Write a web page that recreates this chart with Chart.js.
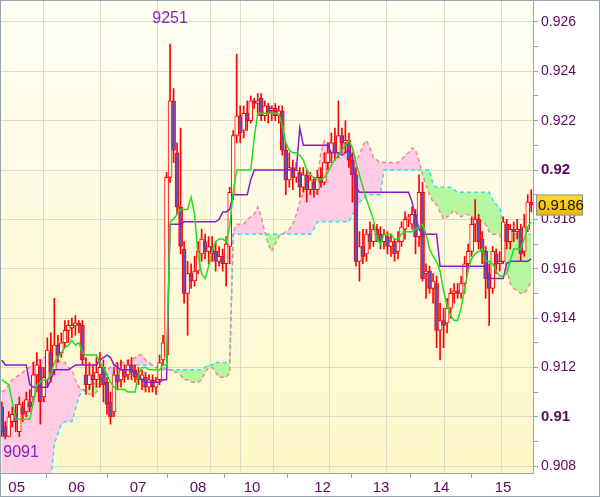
<!DOCTYPE html>
<html>
<head>
<meta charset="utf-8">
<script src="https://cdn.jsdelivr.net/npm/chart.js@4.4.1/dist/chart.umd.min.js"></script>
<style>
  html, body { margin: 0; padding: 0; background: #fff; }
  #wrap { width: 600px; height: 497px; }
</style>
</head>
<body>
<div id="wrap"><canvas id="chart"></canvas></div>
<script>
// hourly candles
const openP = [
  0.9104, 0.9096, 0.9092, 0.9098, 0.9101, 0.9094, 0.9104, 0.9102, 0.9106, 0.9108,
  0.9117, 0.9120, 0.9108, 0.9115, 0.9126, 0.9119, 0.9129, 0.9126, 0.9130, 0.9135,
  0.9136, 0.9137, 0.9138, 0.9137, 0.9117, 0.9113, 0.9117, 0.9115, 0.9117, 0.9120,
  0.9114, 0.9106, 0.9102, 0.9117, 0.9115, 0.9119, 0.9117, 0.9121, 0.9119, 0.9117,
  0.9115, 0.9116, 0.9112, 0.9115, 0.9112, 0.9115, 0.9123, 0.9125, 0.9197, 0.9228,
  0.9207, 0.9185, 0.9168, 0.9150, 0.9158, 0.9155, 0.9159, 0.9166, 0.9171, 0.9167,
  0.9169, 0.9167, 0.9163, 0.9165, 0.9162, 0.9169, 0.9190, 0.9214, 0.9222, 0.9216,
  0.9223, 0.9220, 0.9228, 0.9227, 0.9229, 0.9222, 0.9226, 0.9224, 0.9225, 0.9222,
  0.9224, 0.9208, 0.9196, 0.9201, 0.9197, 0.9199, 0.9193, 0.9198, 0.9192, 0.9195,
  0.9192, 0.9197, 0.9195, 0.9203, 0.9207, 0.9211, 0.9207, 0.9214, 0.9211, 0.9212,
  0.9204, 0.9198, 0.9163, 0.9169, 0.9166, 0.9174, 0.9171, 0.9176, 0.9174, 0.9171,
  0.9173, 0.9169, 0.9171, 0.9167, 0.9171, 0.9176, 0.9180, 0.9178, 0.9182, 0.9173,
  0.9191, 0.9158, 0.9159, 0.9152, 0.9154, 0.9135, 0.9139, 0.9138, 0.9144, 0.9150,
  0.9151, 0.9150, 0.9154, 0.9162, 0.9167, 0.9178, 0.9180, 0.9172, 0.9167, 0.9158,
  0.9152, 0.9166, 0.9162, 0.9163, 0.9178, 0.9171, 0.9176, 0.9175, 0.9176, 0.9167,
  0.9176, 0.9187
];
const highP = [
  0.9106, 0.9098, 0.9102, 0.9104, 0.9105, 0.9108, 0.9106, 0.9110, 0.9111, 0.9122,
  0.9126, 0.9123, 0.9120, 0.9132, 0.9134, 0.9148, 0.9133, 0.9134, 0.9139, 0.9139,
  0.9140, 0.9141, 0.9139, 0.9139, 0.9124, 0.9122, 0.9121, 0.9124, 0.9126, 0.9123,
  0.9116, 0.9110, 0.9120, 0.9122, 0.9123, 0.9121, 0.9123, 0.9124, 0.9121, 0.9120,
  0.9119, 0.9118, 0.9117, 0.9117, 0.9116, 0.9125, 0.9133, 0.9199, 0.9251, 0.9233,
  0.9211, 0.9217, 0.9171, 0.9163, 0.9162, 0.9165, 0.9171, 0.9176, 0.9174, 0.9173,
  0.9173, 0.9171, 0.9169, 0.9168, 0.9173, 0.9193, 0.9216, 0.9247, 0.9226, 0.9226,
  0.9228, 0.9230, 0.9229, 0.9231, 0.9231, 0.9228, 0.9227, 0.9226, 0.9227, 0.9226,
  0.9226, 0.9211, 0.9207, 0.9204, 0.9203, 0.9201, 0.9201, 0.9200, 0.9199, 0.9197,
  0.9200, 0.9201, 0.9207, 0.9211, 0.9215, 0.9217, 0.9228, 0.9217, 0.9220, 0.9215,
  0.9207, 0.9201, 0.9175, 0.9176, 0.9176, 0.9179, 0.9178, 0.9178, 0.9177, 0.9176,
  0.9175, 0.9174, 0.9172, 0.9175, 0.9179, 0.9183, 0.9182, 0.9185, 0.9184, 0.9198,
  0.9195, 0.9162, 0.9161, 0.9158, 0.9157, 0.9146, 0.9144, 0.9148, 0.9152, 0.9154,
  0.9154, 0.9157, 0.9165, 0.9170, 0.9181, 0.9188, 0.9182, 0.9175, 0.9169, 0.9162,
  0.9169, 0.9168, 0.9167, 0.9181, 0.9180, 0.9178, 0.9179, 0.9180, 0.9178, 0.9182,
  0.9190, 0.9192
];
const lowP = [
  0.9092, 0.9091, 0.9092, 0.9096, 0.9094, 0.9092, 0.9098, 0.9100, 0.9102, 0.9106,
  0.9110, 0.9097, 0.9106, 0.9112, 0.9114, 0.9117, 0.9122, 0.9124, 0.9128, 0.9130,
  0.9132, 0.9133, 0.9134, 0.9121, 0.9109, 0.9111, 0.9108, 0.9112, 0.9112, 0.9106,
  0.9101, 0.9097, 0.9100, 0.9111, 0.9112, 0.9114, 0.9115, 0.9115, 0.9114, 0.9113,
  0.9111, 0.9110, 0.9110, 0.9110, 0.9109, 0.9113, 0.9121, 0.9124, 0.9195, 0.9203,
  0.9182, 0.9166, 0.9146, 0.9133, 0.9152, 0.9153, 0.9158, 0.9163, 0.9164, 0.9162,
  0.9163, 0.9159, 0.9161, 0.9159, 0.9153, 0.9162, 0.9188, 0.9211, 0.9211, 0.9213,
  0.9216, 0.9219, 0.9225, 0.9222, 0.9220, 0.9220, 0.9219, 0.9220, 0.9220, 0.9219,
  0.9206, 0.9190, 0.9193, 0.9192, 0.9195, 0.9189, 0.9191, 0.9187, 0.9190, 0.9189,
  0.9190, 0.9193, 0.9194, 0.9200, 0.9203, 0.9204, 0.9205, 0.9207, 0.9207, 0.9201,
  0.9187, 0.9161, 0.9155, 0.9162, 0.9163, 0.9168, 0.9169, 0.9171, 0.9168, 0.9168,
  0.9166, 0.9165, 0.9163, 0.9164, 0.9169, 0.9172, 0.9177, 0.9176, 0.9166, 0.9169,
  0.9155, 0.9148, 0.9150, 0.9146, 0.9128, 0.9123, 0.9128, 0.9134, 0.9140, 0.9146,
  0.9148, 0.9148, 0.9150, 0.9159, 0.9165, 0.9171, 0.9168, 0.9162, 0.9148, 0.9137,
  0.9150, 0.9158, 0.9159, 0.9162, 0.9168, 0.9168, 0.9171, 0.9172, 0.9163, 0.9165,
  0.9175, 0.9183
];
const closeP = [
  0.9094, 0.9092, 0.9100, 0.9101, 0.9098, 0.9105, 0.9101, 0.9107, 0.9104, 0.9117,
  0.9121, 0.9106, 0.9116, 0.9127, 0.9118, 0.9129, 0.9125, 0.9130, 0.9135, 0.9137,
  0.9137, 0.9138, 0.9137, 0.9123, 0.9113, 0.9117, 0.9115, 0.9118, 0.9120, 0.9113,
  0.9105, 0.9100, 0.9117, 0.9114, 0.9119, 0.9116, 0.9121, 0.9118, 0.9116, 0.9115,
  0.9117, 0.9112, 0.9115, 0.9112, 0.9114, 0.9122, 0.9130, 0.9197, 0.9228, 0.9208,
  0.9185, 0.9169, 0.9150, 0.9158, 0.9155, 0.9159, 0.9167, 0.9172, 0.9167, 0.9169,
  0.9166, 0.9163, 0.9165, 0.9162, 0.9170, 0.9191, 0.9214, 0.9222, 0.9215, 0.9223,
  0.9220, 0.9228, 0.9227, 0.9228, 0.9222, 0.9226, 0.9223, 0.9225, 0.9222, 0.9224,
  0.9208, 0.9196, 0.9201, 0.9197, 0.9200, 0.9193, 0.9198, 0.9192, 0.9196, 0.9192,
  0.9197, 0.9195, 0.9203, 0.9207, 0.9211, 0.9207, 0.9214, 0.9211, 0.9212, 0.9204,
  0.9198, 0.9163, 0.9169, 0.9165, 0.9174, 0.9171, 0.9176, 0.9174, 0.9171, 0.9174,
  0.9169, 0.9171, 0.9166, 0.9171, 0.9177, 0.9180, 0.9181, 0.9182, 0.9173, 0.9191,
  0.9156, 0.9159, 0.9152, 0.9155, 0.9135, 0.9139, 0.9137, 0.9144, 0.9150, 0.9151,
  0.9150, 0.9154, 0.9162, 0.9167, 0.9178, 0.9180, 0.9171, 0.9167, 0.9156, 0.9152,
  0.9167, 0.9162, 0.9163, 0.9179, 0.9171, 0.9176, 0.9175, 0.9176, 0.9166, 0.9177,
  0.9187, 0.9186
];

// ichimoku lines
const tenkan = [
  0.9115, 0.9114, 0.9113, 0.9106, 0.9099, 0.9099, 0.9099, 0.9099, 0.9099, 0.9106,
  0.9113, 0.9114, 0.9115, 0.9115, 0.9117, 0.9122, 0.9124, 0.9126, 0.9128, 0.9129,
  0.9131, 0.9129, 0.9130, 0.9126, 0.9125, 0.9125, 0.9125, 0.9125, 0.9122, 0.9120,
  0.9117, 0.9114, 0.9112, 0.9111, 0.9111, 0.9111, 0.9110, 0.9110, 0.9110, 0.9117,
  0.9120, 0.9120, 0.9119, 0.9119, 0.9119, 0.9119, 0.9121, 0.9121, 0.9179, 0.9180,
  0.9182, 0.9184, 0.9184, 0.9184, 0.9189, 0.9182, 0.9165, 0.9158, 0.9156, 0.9161,
  0.9167, 0.9171, 0.9172, 0.9172, 0.9171, 0.9177, 0.9191, 0.9200, 0.9200, 0.9200,
  0.9200, 0.9200, 0.9213, 0.9223, 0.9223, 0.9223, 0.9223, 0.9223, 0.9223, 0.9223,
  0.9218, 0.9211, 0.9208, 0.9207, 0.9207, 0.9206, 0.9204, 0.9200, 0.9198, 0.9197,
  0.9196, 0.9196, 0.9197, 0.9199, 0.9202, 0.9204, 0.9206, 0.9208, 0.9210, 0.9212,
  0.9209, 0.9203, 0.9198, 0.9193, 0.9188, 0.9184, 0.9180, 0.9172, 0.9170, 0.9174,
  0.9174, 0.9174, 0.9172, 0.9172, 0.9174, 0.9175, 0.9175, 0.9175, 0.9176, 0.9177,
  0.9178, 0.9174, 0.9168, 0.9165, 0.9163, 0.9159, 0.9151, 0.9145, 0.9141, 0.9139,
  0.9139, 0.9144, 0.9152, 0.9159, 0.9164, 0.9166, 0.9167, 0.9168, 0.9163, 0.9163,
  0.9162, 0.9159, 0.9157, 0.9157, 0.9158, 0.9163, 0.9168, 0.9168, 0.9168, 0.9172,
  0.9177, 0.9179
];
const kijun = [
  0.9123, 0.9121, 0.9121, 0.9121, 0.9121, 0.9121, 0.9121, 0.9121, 0.9113, 0.9112,
  0.9112, 0.9112, 0.9112, 0.9112, 0.9115, 0.9119, 0.9119, 0.9119, 0.9119, 0.9119,
  0.9120, 0.9121, 0.9121, 0.9121, 0.9121, 0.9121, 0.9121, 0.9121, 0.9123, 0.9124,
  0.9125, 0.9124, 0.9121, 0.9120, 0.9119, 0.9119, 0.9119, 0.9119, 0.9118, 0.9117,
  0.9115, 0.9114, 0.9114, 0.9114, 0.9114, 0.9114, 0.9115, 0.9115, 0.9178, 0.9178,
  0.9178, 0.9178, 0.9179, 0.9179, 0.9179, 0.9179, 0.9179, 0.9179, 0.9179, 0.9179,
  0.9179, 0.9179, 0.9180, 0.9183, 0.9183, 0.9184, 0.9190, 0.9190, 0.9190, 0.9190,
  0.9190, 0.9196, 0.9200, 0.9200, 0.9200, 0.9200, 0.9200, 0.9200, 0.9200, 0.9200,
  0.9200, 0.9200, 0.9200, 0.9200, 0.9200, 0.9217, 0.9210, 0.9210, 0.9210, 0.9210,
  0.9210, 0.9210, 0.9210, 0.9210, 0.9207, 0.9207, 0.9207, 0.9206, 0.9207, 0.9208,
  0.9205, 0.9193, 0.9191, 0.9191, 0.9191, 0.9191, 0.9191, 0.9191, 0.9191, 0.9191,
  0.9191, 0.9191, 0.9191, 0.9191, 0.9191, 0.9191, 0.9191, 0.9187, 0.9181, 0.9176,
  0.9174, 0.9174, 0.9174, 0.9174, 0.9174, 0.9161, 0.9161, 0.9161, 0.9161, 0.9161,
  0.9161, 0.9161, 0.9161, 0.9161, 0.9161, 0.9161, 0.9161, 0.9161, 0.9161, 0.9156,
  0.9156, 0.9156, 0.9156, 0.9156, 0.9162, 0.9163, 0.9163, 0.9163, 0.9163, 0.9163,
  0.9163, 0.9164
];
const spanA = [
  0.9110, 0.9111, 0.9113, 0.9115, 0.9116, 0.9117, 0.9118, 0.9119, 0.9120, 0.9122,
  0.9123, 0.9123, 0.9124, 0.9124, 0.9124, 0.9123, 0.9123, 0.9122, 0.9122, 0.9120,
  0.9119, 0.9115, 0.9112, 0.9111, 0.9110, 0.9109, 0.9109, 0.9110, 0.9113, 0.9116,
  0.9119, 0.9120, 0.9121, 0.9122, 0.9122, 0.9122, 0.9123, 0.9123, 0.9124, 0.9125,
  0.9125, 0.9123, 0.9122, 0.9121, 0.9120, 0.9120, 0.9119, 0.9119, 0.9119, 0.9118,
  0.9118, 0.9117, 0.9115, 0.9115, 0.9114, 0.9114, 0.9114, 0.9115, 0.9118, 0.9120,
  0.9120, 0.9118, 0.9116, 0.9116, 0.9116, 0.9118, 0.9175, 0.9178, 0.9178, 0.9178,
  0.9180, 0.9181, 0.9182, 0.9185, 0.9181, 0.9175, 0.9170, 0.9167, 0.9170, 0.9173,
  0.9174, 0.9175, 0.9176, 0.9178, 0.9182, 0.9187, 0.9191, 0.9194, 0.9195, 0.9196,
  0.9196, 0.9207, 0.9212, 0.9211, 0.9211, 0.9211, 0.9211, 0.9211, 0.9211, 0.9210,
  0.9209, 0.9204, 0.9206, 0.9210, 0.9212, 0.9209, 0.9205, 0.9204, 0.9203, 0.9203,
  0.9203, 0.9203, 0.9203, 0.9203, 0.9204, 0.9206, 0.9207, 0.9209, 0.9208, 0.9204,
  0.9198, 0.9194, 0.9190, 0.9187, 0.9186, 0.9183, 0.9180, 0.9181, 0.9182, 0.9184,
  0.9182, 0.9181, 0.9182, 0.9182, 0.9181, 0.9180, 0.9180, 0.9179, 0.9178, 0.9175,
  0.9174, 0.9174, 0.9174, 0.9167, 0.9160, 0.9154, 0.9152, 0.9151, 0.9150, 0.9150,
  0.9152, 0.9155
];
const spanB = [
  0.9072, 0.9072, 0.9072, 0.9072, 0.9072, 0.9072, 0.9072, 0.9072, 0.9072, 0.9072,
  0.9072, 0.9072, 0.9072, 0.9072, 0.9074, 0.9089, 0.9093, 0.9097, 0.9098, 0.9098,
  0.9098, 0.9103, 0.9108, 0.9111, 0.9111, 0.9112, 0.9113, 0.9114, 0.9115, 0.9116,
  0.9117, 0.9117, 0.9118, 0.9120, 0.9121, 0.9121, 0.9121, 0.9121, 0.9121, 0.9121,
  0.9121, 0.9121, 0.9121, 0.9121, 0.9120, 0.9120, 0.9120, 0.9119, 0.9119, 0.9119,
  0.9119, 0.9119, 0.9119, 0.9119, 0.9119, 0.9119, 0.9119, 0.9119, 0.9120, 0.9121,
  0.9121, 0.9122, 0.9122, 0.9122, 0.9122, 0.9122, 0.9174, 0.9174, 0.9174, 0.9174,
  0.9174, 0.9174, 0.9174, 0.9174, 0.9174, 0.9174, 0.9174, 0.9174, 0.9174, 0.9174,
  0.9174, 0.9174, 0.9174, 0.9174, 0.9174, 0.9174, 0.9174, 0.9174, 0.9174, 0.9176,
  0.9179, 0.9179, 0.9179, 0.9179, 0.9179, 0.9179, 0.9179, 0.9179, 0.9179, 0.9179,
  0.9182, 0.9184, 0.9187, 0.9188, 0.9190, 0.9190, 0.9190, 0.9190, 0.9190, 0.9200,
  0.9200, 0.9200, 0.9200, 0.9200, 0.9200, 0.9200, 0.9200, 0.9200, 0.9200, 0.9200,
  0.9200, 0.9200, 0.9200, 0.9194, 0.9193, 0.9193, 0.9193, 0.9193, 0.9193, 0.9192,
  0.9191, 0.9191, 0.9191, 0.9191, 0.9191, 0.9191, 0.9191, 0.9191, 0.9191, 0.9191,
  0.9188, 0.9186, 0.9185, 0.9176, 0.9174, 0.9174, 0.9174, 0.9174, 0.9174, 0.9174,
  0.9174, 0.9174
];

// day labels under the axis (positions in bar units) and the vertical grid
const xTickPos = [4.26, 21.37, 38.85, 55.96, 71.36, 91.47, 108.15, 125.26, 142.94];
const xTickLabels = ["05", "06", "07", "08", "10", "12", "13", "14", "15"];
const xGridPos = [3.78, 20.03, 36.29, 52.54, 66.8, 69.65, 85.62, 101.59, 118.13, 134.39];
const yTicks = [
  0.908, 0.909, 0.91, 0.911, 0.912, 0.913, 0.914, 0.915, 0.916, 0.917,
  0.918, 0.919, 0.92, 0.921, 0.922, 0.923, 0.924, 0.925, 0.926
];

const FONT = "'Liberation Sans', Arial, sans-serif";
const AXIS_GRAY = "#98a4ae";
const GRID = "#dcdcc4";
const LABEL = "#5c0b5c";

const xs = (arr) => arr.map((v, i) => ({ x: i, y: v }));
const isMajor = (v) => Math.round(v * 1000) % 2 === 0;

const wicks = lowP.map((l, i) => ({ x: i, y: [l, highP[i]] }));
const bodies = openP.map((o, i) => ({ x: i, y: [o, closeP[i]] }));
const bodyFill = openP.map((o, i) => (closeP[i] < o ? "#6650b4" : "#fffbe6"));

const noPad = (s) => {
  s.paddingLeft = 0;
  s.paddingRight = 0;
  s.paddingTop = 0;
  s.paddingBottom = 0;
};

const framePlugin = {
  id: "frame",
  beforeDraw(chart) {
    const { ctx, chartArea: a } = chart;
    ctx.save();
    ctx.fillStyle = "#ffffff";
    ctx.fillRect(0, 0, chart.width, chart.height);
    const g = ctx.createLinearGradient(0, a.top, 0, a.bottom);
    g.addColorStop(0, "#fffff5");
    g.addColorStop(1, "#fdf7c8");
    ctx.fillStyle = g;
    ctx.fillRect(a.left, a.top, a.right - a.left, a.bottom - a.top);
    ctx.restore();
  },
  afterDraw(chart) {
    const { ctx, scales } = chart;
    const x = scales.x;
    const y = scales.y;
    ctx.save();

    // high / low markers
    let hi = 0;
    let lo = 0;
    highP.forEach((v, i) => { if (v > highP[hi]) hi = i; });
    lowP.forEach((v, i) => { if (v < lowP[lo]) lo = i; });
    ctx.font = "16px " + FONT;
    ctx.fillStyle = "#8a1ec8";
    ctx.textBaseline = "middle";
    ctx.textAlign = "center";
    ctx.fillText(String(Math.round(highP[hi] * 10000)), x.getPixelForValue(hi), y.getPixelForValue(highP[hi]) - 26);
    ctx.textAlign = "left";
    ctx.fillText(String(Math.round(lowP[lo] * 10000)), Math.max(3, x.getPixelForValue(lo) - 2), y.getPixelForValue(lowP[lo]) + 14);

    // last price box
    const last = closeP[closeP.length - 1];
    const py = Math.round(y.getPixelForValue(last));
    const bx = 536, bw = 47, bh = 21;
    const g = ctx.createLinearGradient(0, py - bh / 2, 0, py + bh / 2);
    g.addColorStop(0, "#ffdc30");
    g.addColorStop(1, "#f2b400");
    ctx.fillStyle = g;
    ctx.fillRect(bx, py - bh / 2, bw, bh);
    ctx.strokeStyle = "#8c96a0";
    ctx.lineWidth = 1;
    ctx.strokeRect(bx + 0.5, py - bh / 2 + 0.5, bw - 1, bh - 1);
    ctx.fillStyle = "#111";
    ctx.font = "15px " + FONT;
    ctx.textAlign = "left";
    ctx.fillText(last.toFixed(4), bx + 2, py + 1);

    // outer frame
    ctx.strokeStyle = AXIS_GRAY;
    ctx.strokeRect(0.5, 0.5, chart.width - 1, chart.height - 1);
    ctx.restore();
  },
};

new Chart(document.getElementById("chart"), {
  type: "bar",
  data: {
    datasets: [
      {
        type: "line",
        label: "Tenkan",
        data: xs(tenkan),
        borderColor: "#1ee01e",
        borderWidth: 1.5,
        pointRadius: 0,
        fill: false,
        order: 1,
      },
      {
        type: "line",
        label: "Kijun",
        data: xs(kijun),
        borderColor: "#8c1cc8",
        borderWidth: 1.5,
        pointRadius: 0,
        fill: false,
        order: 2,
      },
      {
        label: "Body",
        data: bodies,
        grouped: false,
        barThickness: 4,
        backgroundColor: bodyFill,
        borderColor: "#ff0000",
        borderWidth: 1,
        borderSkipped: false,
        order: 3,
      },
      {
        label: "Wick",
        data: wicks,
        grouped: false,
        barThickness: 1,
        backgroundColor: "#ff0000",
        borderWidth: 0,
        order: 4,
      },
      {
        type: "line",
        label: "Span A",
        data: xs(spanA),
        borderColor: "#f08a8a",
        borderWidth: 1.5,
        borderDash: [4, 3],
        pointRadius: 0,
        fill: { target: "+1", above: "#ffcce4", below: "#b4f7a0" },
        order: 5,
      },
      {
        type: "line",
        label: "Span B",
        data: xs(spanB),
        borderColor: "#38dcf0",
        borderWidth: 1.5,
        borderDash: [4, 3],
        pointRadius: 0,
        fill: false,
        order: 6,
      },
    ],
  },
  options: {
    responsive: true,
    maintainAspectRatio: false,
    animation: false,
    events: [],
    layout: { padding: 0 },
    plugins: {
      legend: { display: false },
      tooltip: { enabled: false },
      filler: { drawTime: "beforeDatasetsDraw" },
    },
    scales: {
      x: {
        type: "linear",
        position: "bottom",
        min: -0.5,
        max: 151.5,
        offset: false,
        afterBuildTicks: (s) => { s.ticks = xTickPos.map((v) => ({ value: v })); },
        afterFit: (s) => { s.height = 24; noPad(s); },
        ticks: {
          autoSkip: false,
          maxRotation: 0,
          padding: 1,
          color: LABEL,
          font: { family: FONT, size: 15 },
          callback: (v, i) => xTickLabels[i],
        },
        grid: { drawOnChartArea: false, drawTicks: true, tickLength: 5, tickColor: AXIS_GRAY },
        border: { display: true, color: AXIS_GRAY },
      },
      xg: {
        type: "linear",
        position: "top",
        min: -0.5,
        max: 151.5,
        offset: false,
        afterBuildTicks: (s) => { s.ticks = xGridPos.map((v) => ({ value: v })); },
        afterFit: (s) => { s.height = 0; noPad(s); },
        ticks: { display: false },
        grid: { color: GRID, drawTicks: false },
        border: { display: false },
      },
      y: {
        type: "linear",
        position: "right",
        min: 0.90772,
        max: 0.92689,
        afterBuildTicks: (s) => { s.ticks = yTicks.map((v) => ({ value: v })); },
        afterFit: (s) => { s.width = 67; noPad(s); },
        ticks: {
          padding: 3,
          color: LABEL,
          font: (ctx) => ({
            family: FONT,
            size: ctx.tick && Math.round(ctx.tick.value * 1000) % 10 === 0 ? 15 : 14,
            weight: ctx.tick && Math.round(ctx.tick.value * 1000) % 10 === 0 ? "bold" : "normal",
          }),
          callback: (v) => (isMajor(v) ? String(v) : ""),
        },
        grid: {
          color: (ctx) => (ctx.tick && isMajor(ctx.tick.value) ? GRID : "rgba(0,0,0,0)"),
          tickColor: AXIS_GRAY,
          tickLength: 5,
        },
        border: { display: true, color: AXIS_GRAY },
      },
    },
  },
  plugins: [framePlugin],
});
</script>
</body>
</html>
